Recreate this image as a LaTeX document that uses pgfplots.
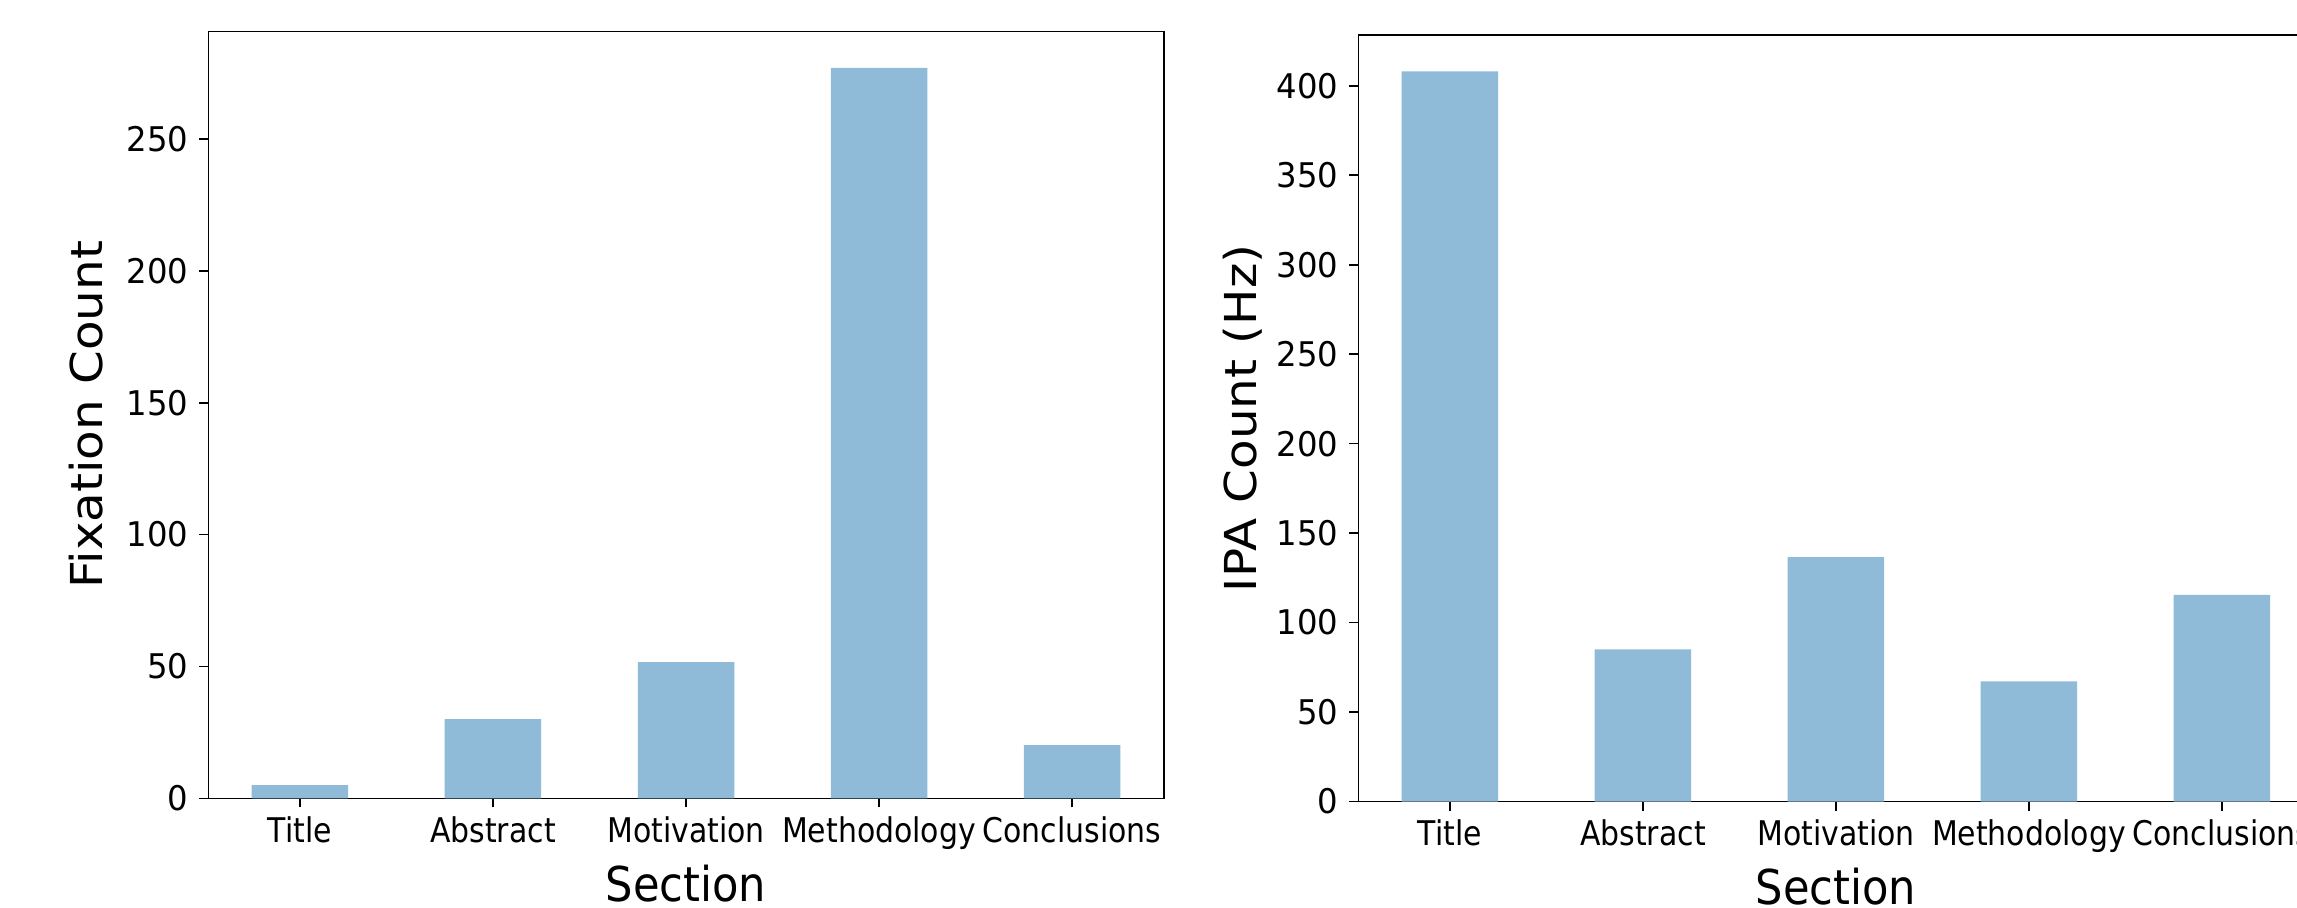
\documentclass[border=0pt]{standalone}
\usepackage{fontspec}
\usepackage{pgfplots}
\pgfplotsset{compat=1.18}
\setmainfont{DejaVu Sans}
\newfontfamily\xtickfont[FakeStretch=0.88]{DejaVu Sans}
\newfontfamily\ytickfont[FakeStretch=0.95]{DejaVu Sans}
\newfontfamily\xlabfont[FakeStretch=0.9]{DejaVu Sans}
\newfontfamily\ylabfont[FakeStretch=1.1]{DejaVu Sans}
\definecolor{barblue}{HTML}{8FBBD9}
\pgfplotsset{
  mybar/.style={
    scale only axis, anchor=south west,
    xmin=-0.475, xmax=4.475, ymin=0,
    xtick={0,1,2,3,4},
    xticklabels={Title,Abstract,Motivation,Methodology,Conclusions},
    tick pos=left, tick align=outside, major tick length=4.5pt,
    axis line style={line width=0.8pt},
    major tick style={line width=0.8pt, black},
    /pgf/number format/assume math mode=true,
    xticklabel style={font=\xtickfont\fontsize{17}{20}\selectfont, anchor=base, yshift=-17.7pt},
    yticklabel style={font=\ytickfont\fontsize{17}{20}\selectfont, anchor=east, inner sep=0pt, xshift=-5.2pt},
    every axis x label/.style={at={(axis description cs:0.5,0)}, anchor=base, yshift=-51.5pt, font=\xlabfont\fontsize{24}{28}\selectfont},
  }
}
\begin{document}
\begin{tikzpicture}
\useasboundingbox (0,0) rectangle (1148.5pt,453.5pt);
\begin{axis}[mybar,
  at={(104.15pt,54.35pt)}, width=477.7pt, height=383.5pt,
  ymax=290.85, ytick={0,50,100,150,200,250},
  xlabel={Section}, ylabel={Fixation Count},
  every axis y label/.style={at={(axis description cs:-0.111,0.5)}, rotate=90, anchor=base, font=\ylabfont\fontsize{22}{26}\selectfont},
]
\addplot[ybar, bar width=0.5, fill=barblue, draw=none] coordinates {
  (0,5) (1,30) (2,51.6) (3,277) (4,20.2)
};
\end{axis}
\begin{axis}[mybar,
  at={(679.15pt,52.75pt)}, width=477.65pt, height=383.25pt,
  ymax=428.4, ytick={0,50,100,150,200,250,300,350,400},
  xlabel={Section}, ylabel={IPA Count (Hz)},
  every axis y label/.style={at={(axis description cs:-0.1068,0.5)}, rotate=90, anchor=base, font=\ylabfont\fontsize{22}{26}\selectfont},
]
\addplot[ybar, bar width=0.5, fill=barblue, draw=none] coordinates {
  (0,408) (1,85) (2,136.6) (3,67.2) (4,115.5)
};
\end{axis}
\end{tikzpicture}
\end{document}
